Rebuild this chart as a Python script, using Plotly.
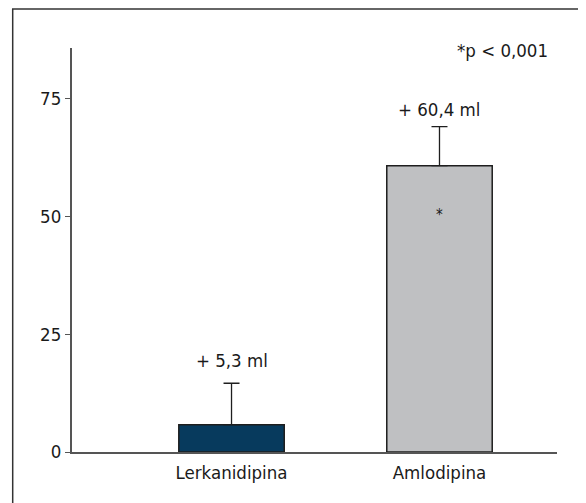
import plotly.graph_objects as go

categories = ["Lerkanidipina", "Amlodipina"]
values = [5.8, 60.8]
err_upper = [14.6, 69.1]
bar_labels = ["+ 5,3 ml", "+ 60,4 ml"]
label_y = [19.5, 72.7]
tick_vals = [0, 25, 50, 75]
colors = ["#073a5d", "#bfc0c2"]

FONT = "DejaVu Sans Condensed, Liberation Sans Narrow, sans-serif"
TXT = "#1a1a1a"
# page has an 8px body margin; figure is sized to fit inside the window
W, H = 578, 495
L, R, T, B = 64, 29, 40, 51
pw, ph = W - L - R, H - T - B

def px_x(x):
    return (x - L) / pw

def px_y(y):
    return 1 - (y - T) / ph

fig = go.Figure()
fig.add_trace(go.Bar(
    x=[0, 1], y=values, width=0.507,
    marker=dict(color=colors, line=dict(color="#1e1e1e", width=1.5)),
    error_y=dict(type="data", symmetric=False,
                 array=[u - v for u, v in zip(err_upper, values)],
                 arrayminus=[0, 0], color="#1e1e1e", thickness=1.3, width=8),
    hoverinfo="skip",
))

annotations = []
for i, (t, yy) in enumerate(zip(bar_labels, label_y)):
    annotations.append(dict(x=i, y=yy, xref="x", yref="y", text=t, showarrow=False,
                            font=dict(family=FONT, size=18.5, color=TXT)))
annotations.append(dict(x=1, y=50.4, xref="x", yref="y", text="*", showarrow=False,
                        font=dict(family=FONT, size=15, color=TXT)))
annotations.append(dict(x=px_x(542), y=px_y(42), xref="paper", yref="paper",
                        xanchor="right", yanchor="middle", text="*p < 0,001",
                        showarrow=False, font=dict(family=FONT, size=18.5, color=TXT)))

shapes = [
    dict(type="line", xref="paper", yref="paper", x0=px_x(4.7), x1=px_x(4.7),
         y0=px_y(H + 5), y1=px_y(1), line=dict(color="#333", width=1.5)),
    dict(type="line", xref="paper", yref="paper", x0=px_x(4), x1=px_x(W + 5),
         y0=px_y(1), y1=px_y(1), line=dict(color="#333", width=1.5)),
]

fig.update_layout(
    width=W, height=H, margin=dict(l=L, r=R, t=T, b=B),
    paper_bgcolor="white", plot_bgcolor="white", showlegend=False,
    font=dict(family=FONT, size=18.5, color=TXT),
    annotations=annotations, shapes=shapes,
    xaxis=dict(range=[-0.767, 1.565], tickvals=[0, 1], ticktext=categories,
               showline=True, linecolor="#555", linewidth=2, ticks="",
               showgrid=False, zeroline=False, ticklabelstandoff=3,
               tickfont=dict(family=FONT, size=18.5, color=TXT)),
    yaxis=dict(range=[0, 85.8], tickvals=tick_vals, showline=True, linecolor="#555",
               linewidth=2, ticks="outside", ticklen=5, tickcolor="#555", tickwidth=1.2,
               showgrid=False, zeroline=False,
               tickfont=dict(family=FONT, size=18.5, color=TXT)),
)

fig.write_html("out.html")
